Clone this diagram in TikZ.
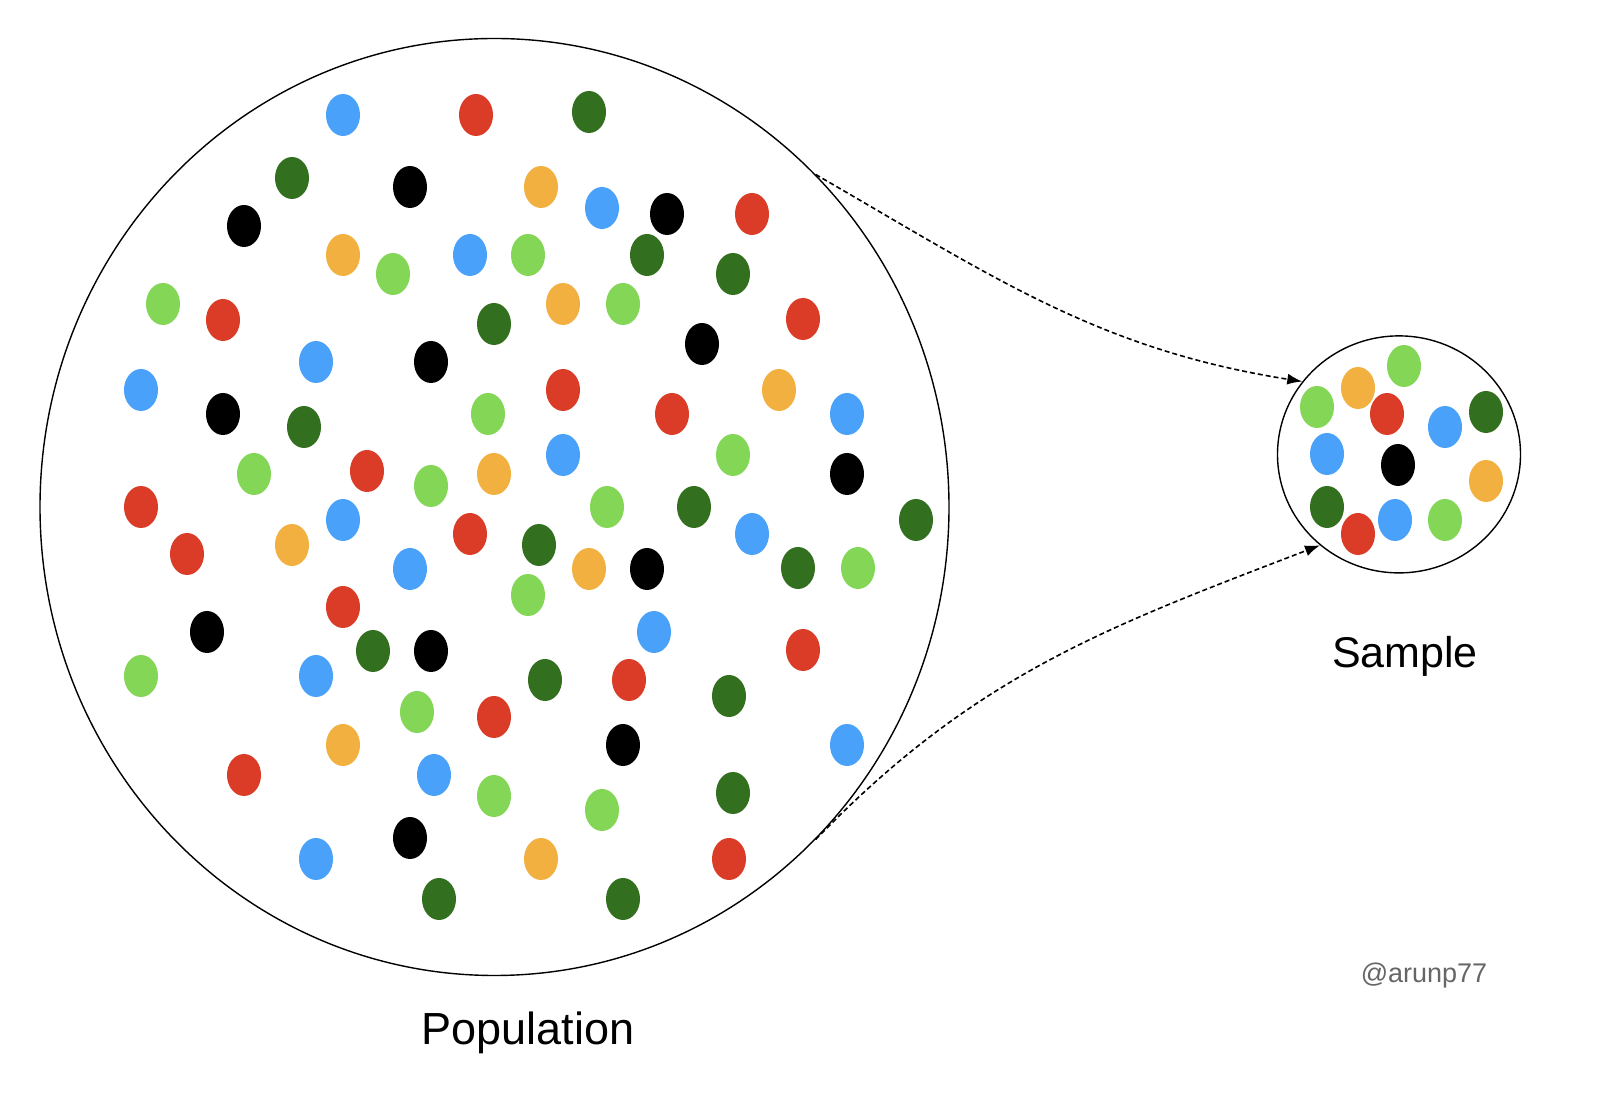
\documentclass[tikz,border=0pt]{standalone}
\usepackage{fontspec}
\setmainfont{Liberation Sans}
\usetikzlibrary{shapes.geometric,arrows.meta}
\definecolor{dotblue}{RGB}{74,161,249}
\definecolor{dotred}{RGB}{219,60,40}
\definecolor{dotdkgreen}{RGB}{50,112,32}
\definecolor{dotltgreen}{RGB}{131,214,86}
\definecolor{dotorange}{RGB}{242,176,65}
\definecolor{tagGray}{RGB}{102,102,102}

\begin{document}
\begin{tikzpicture}[x=1pt, y=1pt,
  bag/.style={ellipse, draw, line width=1.4pt, inner sep=0pt},
  link/.style={line width=1.6pt, dash pattern=on 5pt off 3pt, -{Latex[length=15pt,width=11pt]}},
  bigtext/.style={font=\fontsize{43}{50}\selectfont, anchor=base}]
  \fill[white] (0,0) rectangle (1604,1114);
  \useasboundingbox (0,0) rectangle (1604,1114);

  % the two sets
  \node[bag, minimum width=909pt, minimum height=937pt] (pop) at (494.5,607) {};
  \node[bag, minimum width=243pt, minimum height=237pt] (smp) at (1399,659.6) {};

  % dots, population first and sample after
  \foreach \x/\y in {343/999, 602/906, 470/859, 316/752, 141/724, 563/659, 343/594, 752/580,
      410/545, 654/482, 316/438, 434/339, 316/255, 847/700, 847/369,
      1445/687, 1327/660, 1395/594}
    \fill[dotblue] (\x,\y) ellipse (17 and 21);
  \foreach \x/\y in {476/999, 752/900, 223/794, 803/795, 563/724, 672/700, 367/643, 141/607,
      470/580, 187/560, 343/507, 803/464, 629/434, 494/397, 244/339, 729/255,
      1387/700, 1358/580}
    \fill[dotred] (\x,\y) ellipse (17 and 21);
  \foreach \x/\y in {589/1002, 292/936, 647/859, 733/840, 494/790, 304/687, 539/569, 694/607,
      798/546, 916/594, 373/463, 545/434, 729/418, 733/321, 439/215, 623/215,
      1486/702, 1327/607}
    \fill[dotdkgreen] (\x,\y) ellipse (17 and 21);
  \foreach \x/\y in {393/840, 528/859, 163/810, 623/810, 488/700, 733/659, 254/640, 431/628,
      607/607, 528/519, 858/546, 141/438, 417/402, 494/318, 602/304,
      1404/748, 1317/707, 1445/594}
    \fill[dotltgreen] (\x,\y) ellipse (17 and 21);
  \foreach \x/\y in {541/927, 343/859, 563/810, 779/724, 494/640, 292/569, 589/545, 343/369,
      541/255, 1358/726, 1486/633}
    \fill[dotorange] (\x,\y) ellipse (17 and 21);
  \foreach \x/\y in {410/927, 667/900, 244/888, 431/752, 702/770, 223/700, 847/640, 647/545,
      207/482, 431/463, 623/369, 410/276, 1398/649}
    \fill[black] (\x,\y) ellipse (17 and 21);

  % sampling arrows
  \draw[link] (pop.46.7) to[out=-30, in=171] (smp.143.5);
  \draw[link] (pop.-46.4) to[out=46, in=-159] (smp.229.4);

  \node[bigtext, font=\fontsize{45}{52}\selectfont] (popname) at (528,69) {Population};
  \node[bigtext] (smpname) at (1405,446) {Sample};
  \node[anchor=base, text=tagGray, font=\fontsize{27}{32}\selectfont] (tag) at (1424,131) {@arunp77};
\end{tikzpicture}
\end{document}
